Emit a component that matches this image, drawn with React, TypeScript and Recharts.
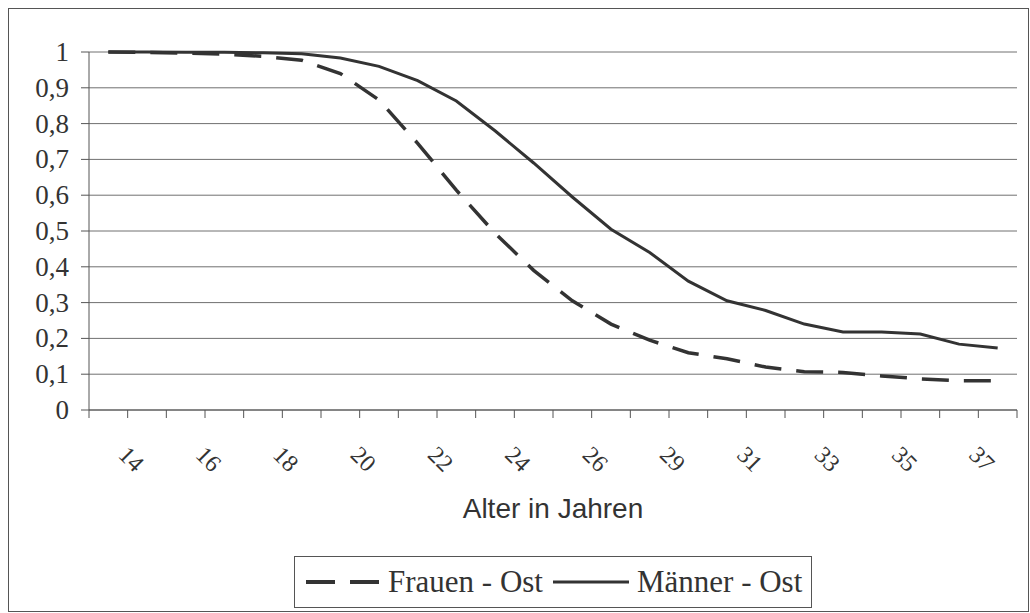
import { CartesianGrid, Legend, Line, LineChart, XAxis, YAxis } from "recharts"

const ages = [
  "14", "15", "16", "17", "18", "19", "20", "21", "22", "23", "24", "25",
  "26", "27", "29", "30", "31", "32", "33", "34", "35", "36", "37", "38",
]

const frauenOst = [
  1.0, 0.999, 0.997, 0.994, 0.988, 0.977, 0.94, 0.866, 0.745, 0.614, 0.494, 0.39,
  0.305, 0.24, 0.195, 0.16, 0.143, 0.12, 0.107, 0.105, 0.095, 0.087, 0.082, 0.082,
]

const maennerOst = [
  1.0, 1.0, 0.999, 0.999, 0.998, 0.995, 0.983, 0.96, 0.92, 0.863, 0.78, 0.69,
  0.595, 0.505, 0.44, 0.36, 0.305, 0.278, 0.24, 0.218, 0.218, 0.212, 0.184, 0.173,
]

const yTicks = [0, 0.1, 0.2, 0.3, 0.4, 0.5, 0.6, 0.7, 0.8, 0.9, 1]

const data = ages.map((age, i) => ({
  age,
  frauen: frauenOst[i],
  maenner: maennerOst[i],
}))

const INK = "#333333"
const SERIF = "'Liberation Serif', 'Times New Roman', serif"
const SANS = "'Liberation Sans', Arial, sans-serif"
const HALF_BAND = 928 / ages.length / 2

function XTick(props: any) {
  const { x, y, payload, index } = props
  const last = index === ages.length - 1
  return (
    <g>
      <line x1={x - HALF_BAND} y1={y} x2={x - HALF_BAND} y2={y + 8} stroke="#555" />
      {last && <line x1={x + HALF_BAND} y1={y} x2={x + HALF_BAND} y2={y + 8} stroke="#555" />}
      {index % 2 === 0 && (
        <text
          x={x + 23}
          y={y + 49}
          transform={`rotate(45 ${x + 23} ${y + 49})`}
          textAnchor="middle"
          dominantBaseline="central"
          style={{ fontFamily: SERIF, fontSize: 24, fill: INK }}
        >
          {payload.value}
        </text>
      )}
    </g>
  )
}

function YTick(props: any) {
  const { x, y, payload } = props
  return (
    <text
      x={x}
      y={y}
      textAnchor="end"
      dominantBaseline="central"
      style={{ fontFamily: SERIF, fontSize: 27, fill: INK }}
    >
      {String(payload.value).replace(".", ",")}
    </text>
  )
}

function LegendBox(props: any) {
  const { payload } = props
  return (
    <div
      style={{
        boxSizing: "border-box",
        width: 518,
        height: 52,
        border: "1px solid #555",
        background: "#fff",
        display: "flex",
        alignItems: "center",
        paddingLeft: 11,
        fontFamily: SERIF,
        fontSize: 31,
        color: INK,
        whiteSpace: "nowrap",
      }}
    >
      {(payload || []).map((entry: any, i: number) => {
        const dashed = !!entry.payload?.strokeDasharray
        const w = dashed ? 74 : 76
        return (
          <div key={i} style={{ display: "flex", alignItems: "center", marginRight: 10 }}>
            <svg width={w} height={10} style={{ marginRight: 8 }}>
              <line
                x1={0}
                y1={5}
                x2={w}
                y2={5}
                stroke={INK}
                strokeWidth={dashed ? 4 : 3}
                strokeDasharray={dashed ? "29 15" : undefined}
              />
            </svg>
            <span>{entry.value}</span>
          </div>
        )
      })}
    </div>
  )
}

export default function App() {
  return (
    <>
      <style>{`body{margin:0}`}</style>
      <div
        style={{
          margin: "8px 0 0 8px",
          width: 1021,
          height: 604,
          boxSizing: "border-box",
          border: "1px solid #555",
          background: "#fff",
          fontFamily: SERIF,
        }}
      >
        <LineChart
          width={1019}
          height={602}
          data={data}
          margin={{ top: 43, right: 11, left: 0, bottom: 3 }}
        >
          <CartesianGrid vertical={false} stroke="#707070" />
          <XAxis
            dataKey="age"
            interval={0}
            tickSize={0}
            tickMargin={0}
            height={146}
            padding={{ left: HALF_BAND, right: HALF_BAND }}
            axisLine={{ stroke: "#555" }}
            tickLine={false}
            tick={<XTick />}
            label={{
              value: "Alter in Jahren",
              position: "insideBottom",
              offset: 38,
              style: { fontFamily: SANS, fontSize: 28, fill: INK },
            }}
          />
          <YAxis
            width={80}
            domain={[0, 1]}
            ticks={yTicks}
            interval={0}
            tickSize={8}
            tickMargin={12}
            axisLine={{ stroke: "#555" }}
            tickLine={{ stroke: "#555" }}
            tick={<YTick />}
          />
          <YAxis
            yAxisId="frame"
            orientation="right"
            width={0}
            domain={[0, 1]}
            tick={false}
            tickLine={false}
            axisLine={{ stroke: "#999" }}
          />
          <Legend
            verticalAlign="bottom"
            content={<LegendBox />}
            wrapperStyle={{ left: 285, bottom: 3, width: 518 }}
          />
          <Line
            dataKey="frauen"
            name="Frauen - Ost"
            stroke={INK}
            strokeWidth={3.5}
            strokeDasharray="27 15"
            dot={false}
            isAnimationActive={false}
          />
          <Line
            dataKey="maenner"
            name="Männer - Ost"
            stroke={INK}
            strokeWidth={3}
            dot={false}
            isAnimationActive={false}
          />
        </LineChart>
      </div>
    </>
  )
}
